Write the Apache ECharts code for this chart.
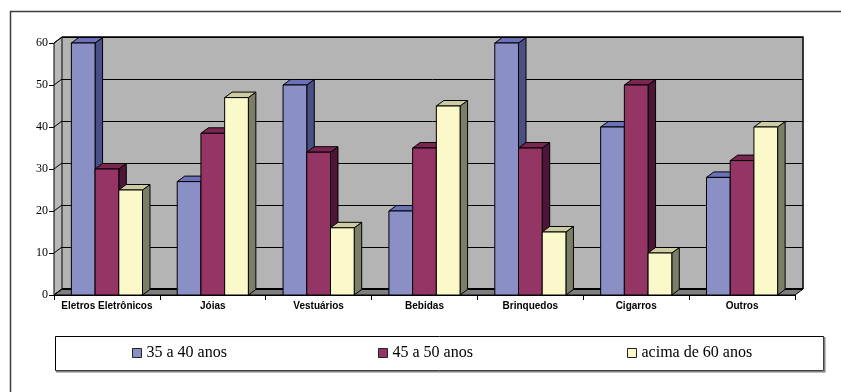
<!DOCTYPE html>
<html>
<head>
<meta charset="utf-8">
<script src="https://cdn.jsdelivr.net/npm/echarts@6/dist/echarts.min.js"></script>
<style>
  html, body { margin: 0; padding: 0; background: #fff; }
  #chart { width: 841px; height: 392px; }
</style>
</head>
<body>
<div id="chart"></div>
<script>
// Product categories along the floor of the 3D column chart
const categories = ['Eletros Eletrônicos', 'Jóias', 'Vestuários', 'Bebidas', 'Brinquedos', 'Cigarros', 'Outros'];
// Age-group series
const seriesNames = ['35 a 40 anos', '45 a 50 anos', 'acima de 60 anos'];
const values35to40 = [60, 27, 50, 20, 60, 40, 28];
const values45to50 = [30, 38.5, 34, 35, 35, 50, 32];
const valuesOver60 = [25, 47, 16, 45, 15, 10, 40];
// Value-axis ticks
const yTickValues = [0, 10, 20, 30, 40, 50, 60];

const seriesValues = [values35to40, values45to50, valuesOver60];
// front / top / side face colours for each series
const faceColors = [
  { front: '#8A8FC6', top: '#6C72BA', side: '#4A4F86' },
  { front: '#943566', top: '#7A2651', side: '#4D1537' },
  { front: '#FBF8C9', top: '#CDCBA2', side: '#7C7F68' }
];

// depth offsets of the 3D box (walls) and of the columns
const WALL_DX = 8, WALL_DY = 6;
const BAR_DX = 7.5, BAR_DY = 5.5;
const BAR_RATIO = 0.224;

const yMin = yTickValues[0];
const yMax = yTickValues[yTickValues.length - 1];
const yStep = yTickValues[1] - yTickValues[0];

function columnRenderer(slot) {
  const c = faceColors[slot];
  return function (params, api) {
    const ci = api.value(0);
    const v = api.value(1);
    const base = api.coord([ci, 0]);
    const top = api.coord([ci, v]);
    const band = api.size([1, 0])[0];
    const bw = band * BAR_RATIO;
    const x0 = base[0] - 1.5 * bw + slot * bw;
    const x1 = x0 + bw;
    const yb = base[1], yt = top[1];
    const stroke = { stroke: '#000', lineWidth: 1 };
    return {
      type: 'group',
      children: [
        {
          type: 'polygon',
          shape: { points: [[x1, yt], [x1 + BAR_DX, yt - BAR_DY], [x1 + BAR_DX, yb - BAR_DY], [x1, yb]] },
          style: Object.assign({ fill: c.side }, stroke)
        },
        {
          type: 'polygon',
          shape: { points: [[x0, yt], [x0 + BAR_DX, yt - BAR_DY], [x1 + BAR_DX, yt - BAR_DY], [x1, yt]] },
          style: Object.assign({ fill: c.top }, stroke)
        },
        {
          type: 'rect',
          shape: { x: x0, y: yt, width: bw, height: yb - yt },
          style: Object.assign({ fill: c.front }, stroke)
        }
      ]
    };
  };
}

// left side wall, floor and back-wall outline
function frameRenderer(params, api) {
  const band = api.size([1, 0])[0];
  const xl = api.coord([0, yMin])[0] - band / 2;
  const xr = api.coord([categories.length - 1, yMin])[0] + band / 2;
  const yb = api.coord([0, yMin])[1];
  const yt = api.coord([0, yMax])[1];
  const yv = api.coord([0, api.value(1)])[1];
  const children = [];
  if (params.dataIndex === 0) {
    children.push({
      type: 'polygon',
      shape: { points: [[xl, yb], [xl, yt], [xl + WALL_DX, yt - WALL_DY], [xl + WALL_DX, yb - WALL_DY]] },
      style: { fill: '#B9B9B9', stroke: '#000', lineWidth: 1 }
    });
    children.push({
      type: 'polygon',
      shape: { points: [[xl, yb], [xl + WALL_DX, yb - WALL_DY], [xr + WALL_DX, yb - WALL_DY], [xr, yb]] },
      style: { fill: '#7F7F7F', stroke: '#000', lineWidth: 1 }
    });
    children.push({
      type: 'line',
      shape: { x1: xl + WALL_DX, y1: yb - WALL_DY, x2: xr + WALL_DX, y2: yb - WALL_DY },
      style: { stroke: '#000', lineWidth: 2 }
    });
    children.push({
      type: 'polyline',
      shape: { points: [[xl + WALL_DX, yt - WALL_DY], [xr + WALL_DX, yt - WALL_DY], [xr + WALL_DX, yb - WALL_DY]] },
      style: { stroke: '#000', lineWidth: 1.5, fill: null }
    });
  }
  children.push({
    type: 'line',
    shape: { x1: xl, y1: yv, x2: xl + WALL_DX, y2: yv - WALL_DY },
    style: { stroke: '#000', lineWidth: 1 }
  });
  return { type: 'group', children: children };
}

const chart = echarts.init(document.getElementById('chart'), null, { renderer: 'canvas' });

const legendLefts = [132, 378, 627];

const option = {
  animation: false,
  backgroundColor: '#fff',
  grid: [
    { left: 54, right: 46, top: 43, bottom: 97 },
    { left: 54 + WALL_DX, right: 46 - WALL_DX, top: 43 - WALL_DY, bottom: 97 + WALL_DY,
      show: true, backgroundColor: '#B4B4B4', borderWidth: 0 }
  ],
  xAxis: [
    {
      type: 'category', gridIndex: 0, data: categories, boundaryGap: true,
      axisLine: { show: true, lineStyle: { color: '#000', width: 1 } },
      axisTick: { show: true, interval: 0, length: 5, lineStyle: { color: '#000' } },
      axisLabel: { interval: 0, color: '#000', fontFamily: 'Liberation Sans, Arial, sans-serif', fontWeight: 'bold', fontSize: 10, margin: 6 },
      splitLine: { show: false }
    },
    {
      type: 'category', gridIndex: 1, data: categories, boundaryGap: true, show: false
    }
  ],
  yAxis: [
    {
      type: 'value', gridIndex: 0, min: yMin, max: yMax, interval: yStep,
      axisLine: { show: true, lineStyle: { color: '#000', width: 1 } },
      axisTick: { show: true, length: 5, lineStyle: { color: '#000' } },
      axisLabel: { color: '#000', fontFamily: 'Liberation Serif, Times New Roman, serif', fontSize: 12, margin: 6 },
      splitLine: { show: false }
    },
    {
      type: 'value', gridIndex: 1, min: yMin, max: yMax, interval: yStep,
      axisLine: { show: false }, axisTick: { show: false }, axisLabel: { show: false },
      splitLine: { show: true, lineStyle: { color: '#000', width: 1 } }
    }
  ],
  legend: seriesNames.map(function (name, i) {
    return {
      data: [name], left: legendLefts[i], top: 345, padding: 0,
      icon: 'rect', itemWidth: 9, itemHeight: 9,
      itemStyle: { borderColor: '#222', borderWidth: 1 },
      textStyle: { color: '#000', fontFamily: 'Liberation Serif, Times New Roman, serif', fontSize: 16 },
      selectedMode: false
    };
  }),
  graphic: [
    {
      type: 'polyline', silent: true,
      shape: { points: [[10.5, 392], [10.5, 11.5], [841, 11.5]] },
      style: { stroke: '#3c3c3c', lineWidth: 1.5, fill: null }
    },
    {
      type: 'rect', silent: true,
      shape: { x: 55.5, y: 336.5, width: 768, height: 34 },
      style: { fill: '#fff', stroke: '#000', lineWidth: 1 },
      z: -1
    },
    {
      type: 'polyline', silent: true,
      shape: { points: [[56, 371.5], [824.5, 371.5], [824.5, 337]] },
      style: { stroke: '#808080', lineWidth: 2, fill: null }
    }
  ],
  series: [
    {
      type: 'custom', name: 'frame', xAxisIndex: 0, yAxisIndex: 0, z: 1,
      renderItem: frameRenderer,
      data: yTickValues.map(function (v) { return [0, v]; }),
      silent: true
    }
  ].concat(seriesNames.map(function (name, s) {
    return {
      type: 'custom', name: name, xAxisIndex: 0, yAxisIndex: 0, z: 2,
      renderItem: columnRenderer(s),
      itemStyle: { color: faceColors[s].front },
      encode: { x: 0, y: 1 },
      data: seriesValues[s].map(function (v, i) { return [i, v]; })
    };
  }))
};

chart.setOption(option);
</script>
</body>
</html>
